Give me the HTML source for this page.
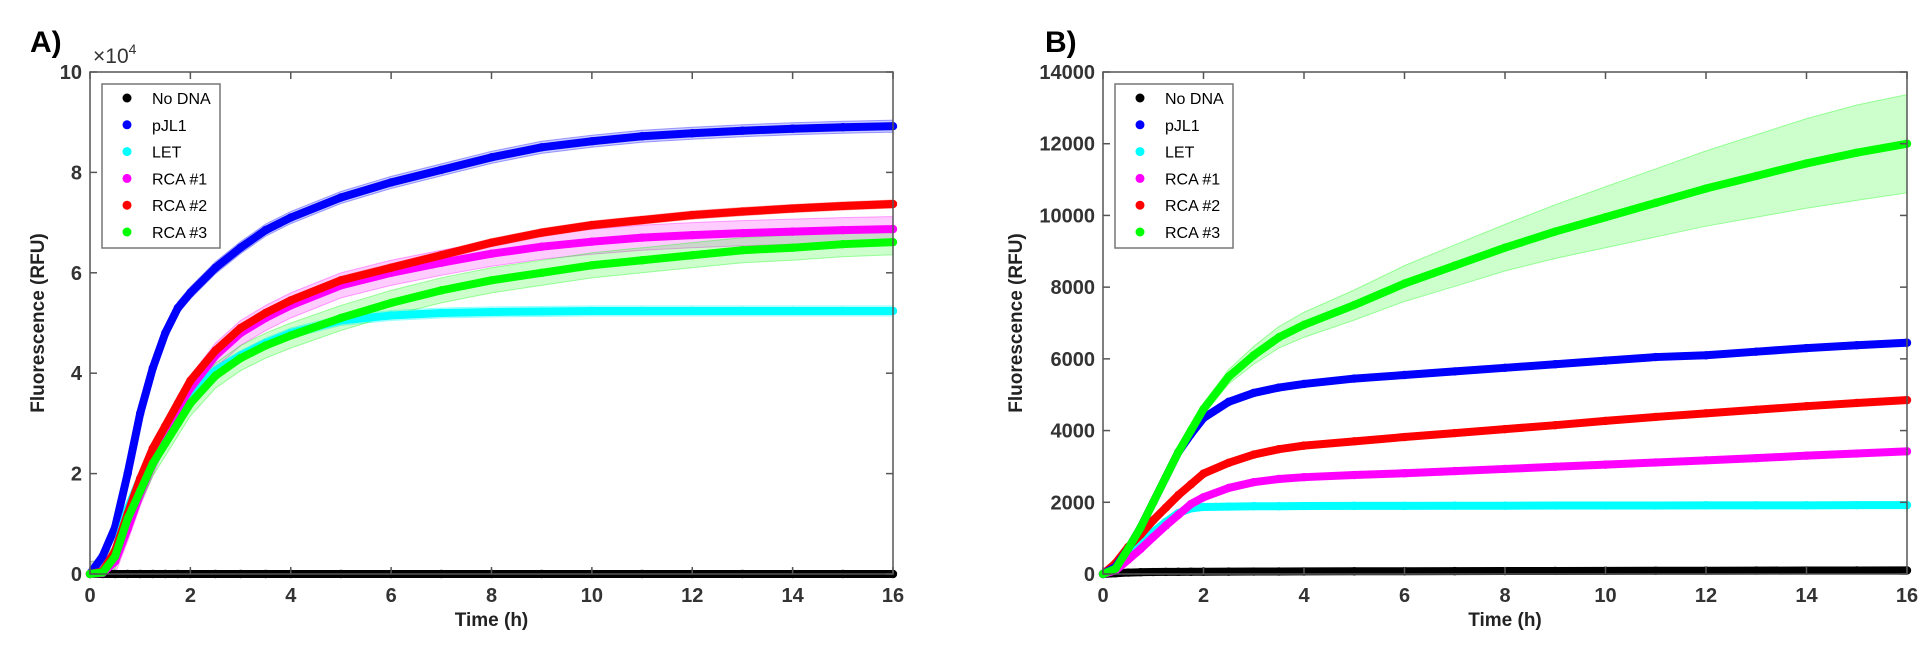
<!DOCTYPE html>
<html><head><meta charset="utf-8"><style>
body{margin:0;background:#fff;}
svg text{font-family:"Liberation Sans",sans-serif;}
</style></head><body>
<svg id="chart" width="1932" height="645" xmlns="http://www.w3.org/2000/svg"></svg>
<script>
const times=[0,0.25,0.5,0.75,1,1.25,1.5,1.75,2,2.5,3,3.5,4,5,6,7,8,9,10,11,12,13,14,15,16];
const seriesNames=["No DNA","pJL1","LET","RCA #1","RCA #2","RCA #3"];
const seriesColors=["#000000","#0000ff","#00ffff","#ff00ff","#ff0000","#00ff00"];
// Panel A (x10^4)
const aNoDNA=[0,0,0,0,0,0,0,0,0,0,0,0,0,0,0,0,0,0,0,0,0,0,0,0,0];
const aPJL1=[0,0.35,0.93,2.0,3.2,4.1,4.8,5.3,5.6,6.1,6.5,6.85,7.1,7.5,7.8,8.05,8.3,8.5,8.62,8.72,8.78,8.83,8.87,8.9,8.92];
const aLET=[0,0.05,0.45,1.3,1.9,2.4,2.9,3.3,3.6,4.05,4.35,4.6,4.8,5.05,5.15,5.2,5.22,5.23,5.24,5.24,5.24,5.24,5.24,5.24,5.24];
const aRCA1=[0,0.02,0.25,0.9,1.6,2.2,2.8,3.3,3.7,4.35,4.8,5.1,5.35,5.75,6.0,6.2,6.38,6.52,6.62,6.7,6.75,6.79,6.82,6.85,6.87];
const aRCA2=[0,0.05,0.46,1.2,1.9,2.5,2.95,3.4,3.85,4.45,4.9,5.2,5.45,5.85,6.1,6.35,6.6,6.8,6.95,7.05,7.15,7.22,7.28,7.33,7.37];
const aRCA3=[0,0.03,0.35,1.1,1.65,2.2,2.6,3.0,3.4,3.95,4.3,4.55,4.75,5.1,5.4,5.65,5.85,6.0,6.15,6.25,6.35,6.45,6.5,6.57,6.61];
const aSD=[0,0.12,0.1,0.25,0.08,0.25];
// Panel B (RFU)
const bNoDNA=[0,20,40,50,55,58,60,62,64,66,68,70,72,75,78,80,82,85,88,90,92,95,97,99,100];
const bPJL1=[0,200,700,1300,2000,2700,3400,3900,4350,4800,5050,5200,5300,5450,5550,5650,5750,5850,5950,6050,6100,6200,6300,6380,6450];
const bLET=[0,250,550,850,1170,1450,1700,1830,1870,1880,1890,1890,1895,1900,1900,1905,1905,1910,1910,1910,1915,1915,1915,1920,1920];
const bRCA1=[0,100,400,700,1030,1350,1650,1950,2140,2400,2560,2650,2700,2760,2810,2870,2930,2990,3050,3110,3170,3230,3300,3360,3420];
const bRCA2=[0,300,750,1100,1500,1850,2200,2500,2800,3100,3330,3480,3580,3700,3820,3930,4040,4150,4270,4380,4480,4580,4680,4770,4850];
const bRCA3=[0,150,700,1300,2000,2700,3400,4000,4600,5500,6100,6600,6950,7500,8100,8600,9100,9550,9950,10350,10750,11100,11450,11750,12000];
const bRCA3SD=[0,20,40,60,80,100,120,140,160,200,250,300,350,420,500,580,650,750,850,950,1050,1150,1250,1330,1370];
const aYTicks=[0,2,4,6,8,10];
const bYTicks=[0,2000,4000,6000,8000,10000,12000,14000];
const xTicks=[0,2,4,6,8,10,12,14,16];

const NS="http://www.w3.org/2000/svg";
const svg=document.getElementById('chart');
function mk(tag,attrs,parent){const e=document.createElementNS(NS,tag);for(const k in attrs)e.setAttribute(k,attrs[k]);(parent||svg).appendChild(e);return e;}

function panel(cfg){
  const L=cfg.left,R=cfg.right,T=72,B=574;
  const xs=t=>L+(t/16)*(R-L);
  const ys=v=>B-(v/cfg.ymax)*(B-T);
  const g=mk('g',{});
  
  
  cfg.series.forEach((s,i)=>{
    const sd=cfg.sd[i];
    if(!sd) return;
    const sdAt=j=>Array.isArray(sd)?sd[j]:sd;
    let d='';
    times.forEach((t,j)=>{d+=(j?'L':'M')+xs(t)+','+ys(s[j]+sdAt(j));});
    for(let j=times.length-1;j>=0;j--)d+='L'+xs(times[j])+','+ys(Math.max(0,s[j]-sdAt(j)));
    const p=mk('path',{d:d+'Z',fill:seriesColors[i],'fill-opacity':0.2,stroke:seriesColors[i],'stroke-opacity':0.35,'stroke-width':1},g);
    
    
  });
  cfg.order.forEach(i=>{
    const s=cfg.series[i];
    const sg=mk('g',{},g);
    
    
    let d='';
    times.forEach((t,j)=>{d+=(j?'L':'M')+xs(t)+','+ys(s[j]);});
    mk('path',{d:d,fill:'none',stroke:seriesColors[i],'stroke-width':8,'stroke-linecap':'round','stroke-linejoin':'round'},sg);
    times.forEach((t,j)=>{
      const c=mk('circle',{cx:xs(t),cy:ys(s[j]),r:4.2,fill:seriesColors[i]},sg);
      
      
    });
  });
  const box=mk('rect',{x:L,y:T,width:R-L,height:B-T,fill:'none',stroke:'#555','stroke-width':1.5},g);
  
  
  xTicks.forEach(t=>{
    mk('line',{x1:xs(t),x2:xs(t),y1:B,y2:B-7,stroke:'#555','stroke-width':1.5},g);
    mk('line',{x1:xs(t),x2:xs(t),y1:T,y2:T+7,stroke:'#555','stroke-width':1.5},g);
    const tx=mk('text',{x:xs(t),y:B+28,'text-anchor':'middle','font-size':20,'font-weight':'bold',fill:'#333'},g);
    tx.textContent=t;
    
    
  });
  cfg.yticks.forEach(v=>{
    mk('line',{x1:L,x2:L+7,y1:ys(v),y2:ys(v),stroke:'#555','stroke-width':1.5},g);
    mk('line',{x1:R,x2:R-7,y1:ys(v),y2:ys(v),stroke:'#555','stroke-width':1.5},g);
    const tx=mk('text',{x:L-8,y:ys(v)+7,'text-anchor':'end','font-size':20,'font-weight':'bold',fill:'#333'},g);
    tx.textContent=v;
    
    
  });
  const xt=mk('text',{x:(L+R)/2,y:626,'text-anchor':'middle','font-size':19,'font-weight':'bold',fill:'#222'},g);
  xt.textContent='Time (h)';
  
  
  const yt=mk('text',{x:0,y:0,transform:`translate(${cfg.ytX},${(T+B)/2}) rotate(-90)`,'text-anchor':'middle','font-size':19,'font-weight':'bold',fill:'#222'},g);
  yt.textContent='Fluorescence (RFU)';
  
  
  const pl=mk('text',{x:cfg.labelX,y:52,'font-size':30,'font-weight':'bold',fill:'#000'},g);
  pl.textContent=cfg.label;
  
  
  const lg=mk('g',{},g);
  
  
  mk('rect',{x:L+12,y:84,width:118,height:164,fill:'#fff',stroke:'#777','stroke-width':1.5},lg);
  seriesNames.forEach((n,i)=>{
    const yy=98+i*26.8;
    const e=mk('g',{},lg);
    
    
    mk('circle',{cx:L+37,cy:yy,r:4.5,fill:seriesColors[i]},e);
    const t=mk('text',{x:L+62,y:yy+6,'font-size':16,fill:'#000'},e);
    t.textContent=n;
  });
}
panel({name:'panel-a',left:90,right:893,ymax:10,yticks:aYTicks,series:[aNoDNA,aPJL1,aLET,aRCA1,aRCA2,aRCA3],sd:[0,aSD[1],aSD[2],aSD[3],aSD[4],aSD[5]],order:[0,1,2,3,4,5],ytX:44,labelX:30,label:'A)'});
const ex=mk('text',{x:93,y:63,'font-size':21,fill:'#333'});


ex.innerHTML='×10<tspan font-size="14" dy="-9">4</tspan>';
panel({name:'panel-b',left:1103,right:1907,ymax:14000,yticks:bYTicks,series:[bNoDNA,bPJL1,bLET,bRCA1,bRCA2,bRCA3],sd:[0,0,0,0,0,bRCA3SD],order:[0,2,3,4,1,5],ytX:1022,labelX:1045,label:'B)'});
</script>
</body></html>
